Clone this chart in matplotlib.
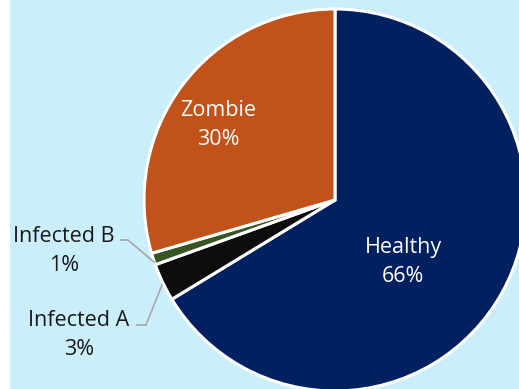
import numpy as np
import matplotlib.pyplot as plt
from matplotlib.patches import Rectangle

labels = ['Healthy', 'Infected A', 'Infected B', 'Zombie']
values = [66.3, 3.2, 1.0, 29.5]
colors = ['#002060', '#0D0D0D', '#375623', '#C0521A']

bg = '#CBEEFB'
plt.rcParams['font.family'] = ['Open Sans', 'DejaVu Sans']

fig = plt.figure(figsize=(5.19, 3.89), dpi=100, facecolor='white')
ax = fig.add_axes([10 / 519, 0, 509 / 519, 1])
ax.set_facecolor(bg)
ax.add_patch(Rectangle((10, 0), 509, 389, color=bg, zorder=0))

ax.pie(values, colors=colors, startangle=90, counterclock=False,
       center=(335, 189), radius=191, frame=True,
       wedgeprops=dict(edgecolor='white', linewidth=2.2))
ax.set_xlim(10, 519)
ax.set_ylim(0, 389)
ax.set_aspect('equal')
ax.axis('off')

pct = [f'{round(v)}%' for v in values]
fs = 15.5
ls = 1.55

# labels inside
ax.text(403, 389 - 262, f'{labels[0]}\n{pct[0]}', color='white', fontsize=fs,
        ha='center', va='center', linespacing=ls)
ax.text(218, 389 - 125, f'{labels[3]}\n{pct[3]}', color='white', fontsize=fs,
        ha='center', va='center', linespacing=ls)

# labels outside with leader lines
ax.text(64, 389 - 251, f'{labels[2]}\n{pct[2]}', color='#1a1a1a', fontsize=fs,
        ha='center', va='center', linespacing=ls)
ax.text(79, 389 - 335, f'{labels[1]}\n{pct[1]}', color='#1a1a1a', fontsize=fs,
        ha='center', va='center', linespacing=ls)

ax.plot([121, 128, 154], [389 - 240, 389 - 240, 389 - 262], color='#A6A6A6', lw=1.2)
ax.plot([137, 146, 162], [389 - 325, 389 - 325, 389 - 285], color='#A6A6A6', lw=1.2)

plt.savefig('out.png', dpi=100, facecolor='white')
